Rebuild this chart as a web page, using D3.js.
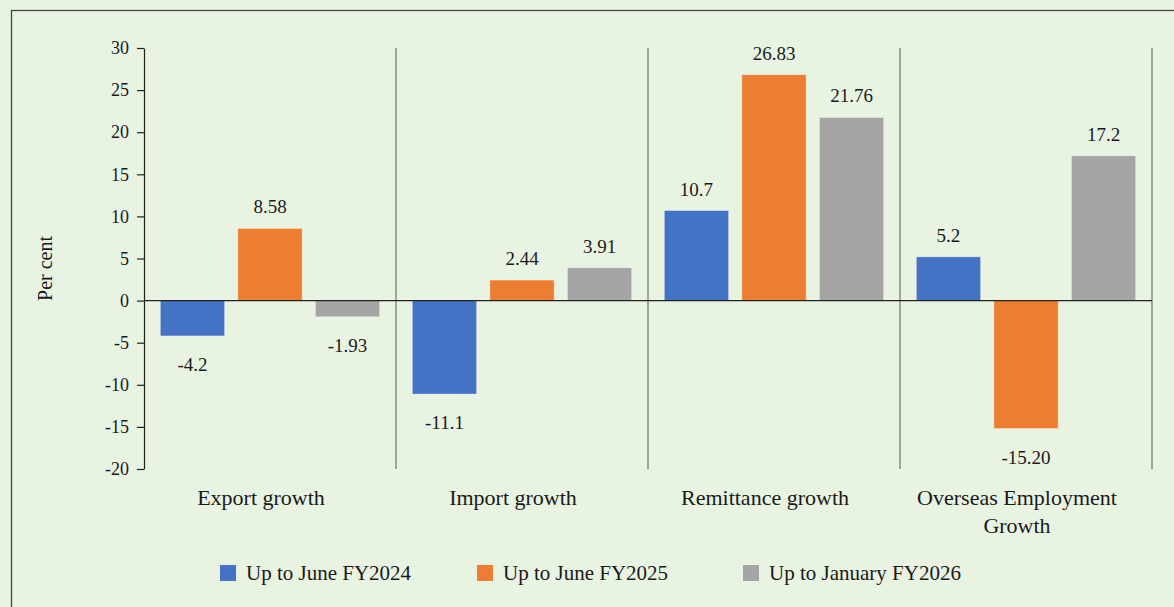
<!DOCTYPE html>
<html>
<head>
<meta charset="utf-8">
<script src="https://cdn.jsdelivr.net/npm/d3@7"></script>
<style>
  body { margin: 0; background: #e9f3e2; }
  svg { display: block; font-family: "Liberation Serif", serif; }
</style>
</head>
<body>
<script>
const categories = ["Export growth", "Import growth", "Remittance growth", "Overseas Employment Growth"];
const series = ["Up to June FY2024", "Up to June FY2025", "Up to January FY2026"];
const colors = ["#4472c4", "#ed7d31", "#a5a5a5"];
const values = [
  [-4.2, -11.1, 10.7, 5.2],
  [8.58, 2.44, 26.83, -15.20],
  [-1.93, 3.91, 21.76, 17.2],
];
const valueLabels = [
  ["-4.2", "-11.1", "10.7", "5.2"],
  ["8.58", "2.44", "26.83", "-15.20"],
  ["-1.93", "3.91", "21.76", "17.2"],
];
const yTicks = [-20, -15, -10, -5, 0, 5, 10, 15, 20, 25, 30];

const width = 1174, height = 607;
const plotLeft = 144, plotRight = 1152, plotTop = 48, plotBottom = 469;

const svg = d3.select("body").append("svg")
  .attr("width", width)
  .attr("height", height);

// outer frame (top and left edges visible)
svg.append("rect")
  .attr("x", 11.5).attr("y", 10.5)
  .attr("width", width).attr("height", height)
  .attr("fill", "none")
  .attr("stroke", "#444")
  .attr("stroke-width", 1.3);

const y = d3.scaleLinear().domain([-20, 30]).range([plotBottom, plotTop]);
const x0 = d3.scaleBand().domain(categories).range([plotLeft, plotRight]);
const x1 = d3.scaleBand().domain(series).range([0, x0.bandwidth()])
  .paddingInner(0.17).paddingOuter(0.21);

// category separators
svg.append("g").selectAll("line")
  .data(categories)
  .enter().append("line")
  .attr("x1", (d) => x0(d) + x0.bandwidth())
  .attr("x2", (d) => x0(d) + x0.bandwidth())
  .attr("y1", plotTop)
  .attr("y2", plotBottom)
  .attr("stroke", "#555")
  .attr("stroke-width", 1);

// bars
const groups = svg.append("g").selectAll("g")
  .data(series)
  .enter().append("g")
  .attr("fill", (d, i) => colors[i]);

const rows = (s, si) => categories.map((c, ci) => ({ s, c, v: values[si][ci], label: valueLabels[si][ci] }));

groups.selectAll("rect")
  .data(rows)
  .enter().append("rect")
  .attr("x", (d) => x0(d.c) + x1(d.s))
  .attr("width", x1.bandwidth())
  .attr("y", (d) => y(Math.max(0, d.v)))
  .attr("height", (d) => Math.abs(y(d.v) - y(0)))
  .attr("stroke", "rgba(255,255,255,0.5)")
  .attr("stroke-width", 0.8);

// value labels
groups.selectAll("text")
  .data(rows)
  .enter().append("text")
  .attr("x", (d) => x0(d.c) + x1(d.s) + x1.bandwidth() / 2)
  .attr("y", (d) => d.v >= 0 ? y(d.v) - 15 : y(d.v) + 35)
  .attr("text-anchor", "middle")
  .attr("fill", "#1a1a1a")
  .attr("font-size", "19px")
  .text((d) => d.label);

// y axis
const yAxis = svg.append("g")
  .attr("transform", `translate(${plotLeft},0)`)
  .call(d3.axisLeft(y).tickValues(yTicks).tickFormat((d) => String(d))
    .tickSize(7).tickPadding(8).tickSizeOuter(0));
yAxis.select(".domain").attr("stroke", "#222").attr("stroke-width", 1.2);
yAxis.selectAll(".tick line").attr("stroke", "#222").attr("stroke-width", 1.2);
yAxis.selectAll("text")
  .attr("font-family", "Liberation Serif, serif")
  .attr("font-size", "18px")
  .attr("fill", "#1a1a1a");

// zero line
svg.append("line")
  .attr("x1", plotLeft).attr("x2", plotRight)
  .attr("y1", y(0)).attr("y2", y(0))
  .attr("stroke", "#222")
  .attr("stroke-width", 1.2);

// y title
svg.append("text")
  .attr("transform", `translate(52,${(plotTop + plotBottom) / 2 + 10}) rotate(-90)`)
  .attr("text-anchor", "middle")
  .attr("font-size", "20px")
  .attr("fill", "#1a1a1a")
  .text("Per cent");

// category labels (sit a little left of the band centre, as in the source)
const catLines = { "Overseas Employment Growth": ["Overseas Employment", "Growth"] };
svg.append("g").selectAll("text")
  .data(categories)
  .enter().append("text")
  .attr("x", (d) => x0(d) + x0.bandwidth() / 2 - 9)
  .attr("y", 505)
  .attr("text-anchor", "middle")
  .attr("font-size", "22px")
  .attr("fill", "#1a1a1a")
  .each(function (d) {
    const lines = catLines[d] || [d];
    const t = d3.select(this);
    lines.forEach((l, i) => {
      t.append("tspan")
        .attr("x", t.attr("x"))
        .attr("dy", i === 0 ? 0 : 28)
        .text(l);
    });
  });

// legend
const legendX = [220, 477, 743];
const legend = svg.append("g").selectAll("g")
  .data(series)
  .enter().append("g")
  .attr("transform", (d, i) => `translate(${legendX[i]},565)`);
legend.append("rect")
  .attr("width", 16).attr("height", 16)
  .attr("fill", (d, i) => colors[i]);
legend.append("text")
  .attr("x", 26).attr("y", 15)
  .attr("font-size", "21px")
  .attr("fill", "#1a1a1a")
  .text((d) => d);
</script>
</body>
</html>
